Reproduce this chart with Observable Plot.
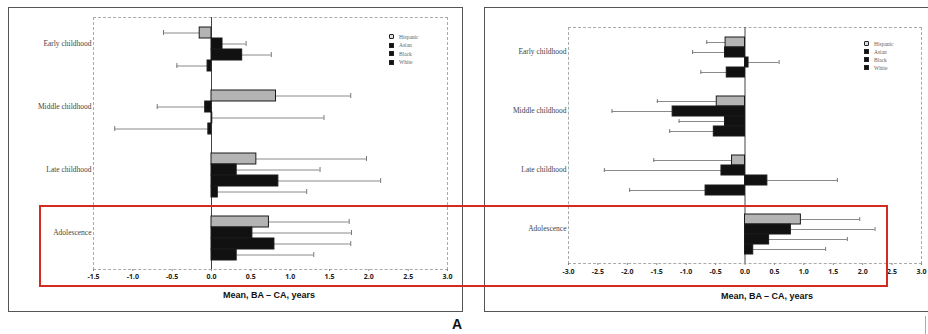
<!DOCTYPE html>
<html><head><meta charset="utf-8">
<script src="https://cdn.jsdelivr.net/npm/d3@7"></script>
<script src="https://cdn.jsdelivr.net/npm/@observablehq/plot@0.6"></script>
<style>
html,body{margin:0;padding:0;background:#fff;width:928px;height:334px;overflow:hidden;position:relative;font-family:"Liberation Sans",Arial,sans-serif}
.abs{position:absolute;box-sizing:border-box}
.lg{position:absolute;font-family:"Liberation Serif",serif;font-size:5.5px;color:#666;line-height:6px;white-space:nowrap}
.sw{position:absolute;width:5px;height:5px;box-sizing:border-box}
.ttl{position:absolute;font-weight:bold;font-size:9px;color:#111;white-space:nowrap;transform:translateX(-50%)}
</style></head><body>
<script>
const stages = ["Early childhood", "Middle childhood", "Late childhood", "Adolescence"];
const groups = ["Hispanic", "Asian", "Black", "White"];
// values ordered stage by stage, Hispanic / Asian / Black / White within each stage
const panelAMean = [-0.15, 0.14, 0.39, -0.05,  0.82, -0.08, 0.01, -0.04,  0.57, 0.32, 0.85, 0.08,  0.73, 0.52, 0.80, 0.32];
const panelAEnd  = [-0.61, 0.44, 0.76, -0.44,  1.77, -0.69, 1.43, -1.23,  1.97, 1.38, 2.15, 1.21,  1.75, 1.78, 1.77, 1.30];
const panelBMean = [-0.33, -0.34, 0.06, -0.31,  -0.48, -1.23, -0.34, -0.53,  -0.22, -0.40, 0.38, -0.67,  0.95, 0.78, 0.41, 0.14];
const panelBEnd  = [-0.65, -0.89, 0.58, -0.75,  -1.49, -2.26, -1.12, -1.28,  -1.55, -2.39, 1.57, -1.96,  1.95, 2.21, 1.74, 1.37];
const xTicksA = [-1.5, -1.0, -0.5, 0.0, 0.5, 1.0, 1.5, 2.0, 2.5, 3.0];
const xTicksB = [-3.0, -2.5, -2.0, -1.5, -1.0, -0.5, 0.0, 0.5, 1.0, 1.5, 2.0, 2.5, 3.0];
const axisTitle = "Mean, BA \u2013 CA, years";
const panelLetter = "A";
const barColors = ["#b4b4b4", "#111", "#111", "#111"];

function rowsOf(mean, end) {
  const rows = [];
  stages.forEach((s, i) => groups.forEach((g, j) => rows.push({stage: s, group: g, mean: mean[i * 4 + j], end: end[i * 4 + j]})));
  return rows;
}

function makePlot(mean, end, cfg) {
  const rows = rowsOf(mean, end);
  return Plot.plot({
    width: cfg.width, height: cfg.height,
    marginLeft: cfg.ml, marginRight: cfg.mr, marginTop: cfg.mt, marginBottom: cfg.mb,
    style: {background: "transparent", overflow: "visible"},
    x: {domain: [cfg.ticks[0], cfg.ticks[cfg.ticks.length - 1]]},
    y: {domain: groups, padding: 0, insetTop: cfg.inset, insetBottom: cfg.inset, axis: null},
    fy: {domain: stages, padding: 0},
    color: {domain: groups, range: barColors},
    marks: [
      Plot.ruleX([0], {stroke: "#444", strokeWidth: 1}),
      Plot.ruleY(rows, {fy: "stage", y: "group", x1: "mean", x2: "end", stroke: "#8a8a8a", strokeWidth: 1}),
      Plot.tickX(rows, {fy: "stage", y: "group", x: "end", stroke: "#777", insetTop: 3, insetBottom: 3}),
      Plot.barX(rows, {fy: "stage", y: "group", x1: 0, x2: "mean", fill: "group", stroke: "#1a1a1a", strokeWidth: 1}),
      Plot.axisX({ticks: cfg.ticks, tickFormat: d => d.toFixed(1), tickSize: 2, tickPadding: cfg.tickPad,
        fontSize: 7, fontWeight: "bold", fill: "#222", stroke: "#888", label: null}),
      Plot.axisFy({anchor: "left", tickSize: 0, tickPadding: 2, label: null, fontFamily: "Liberation Serif",
        fontSize: 7.5, fill: "#444", dy: -5})
    ]
  });
}

function place(el, left, top) {
  el.style.position = "absolute"; el.style.left = left + "px"; el.style.top = top + "px";
  document.body.appendChild(el); return el;
}
function box(left, top, w, h, css) {
  const d = document.createElement("div"); d.className = "abs";
  d.style.cssText += `left:${left}px;top:${top}px;width:${w}px;height:${h}px;` + css;
  document.body.appendChild(d); return d;
}
function legend(x, y, step) {
  groups.forEach((g, i) => {
    const s = document.createElement("div"); s.className = "sw";
    s.style.left = x + "px"; s.style.top = (y + i * step) + "px";
    s.style.background = i === 0 ? "#ddd" : "#111";
    s.style.border = "1px solid #222";
    if (i === 0) s.style.borderRadius = "1px";
    document.body.appendChild(s);
    const t = document.createElement("div"); t.className = "lg"; t.textContent = g;
    t.style.left = (x + 10) + "px"; t.style.top = (y + i * step - 0.5) + "px";
    document.body.appendChild(t);
  });
}
function title(cx, top, txt, size) {
  const t = document.createElement("div"); t.className = "ttl"; t.textContent = txt;
  t.style.left = cx + "px"; t.style.top = top + "px"; if (size) t.style.fontSize = size + "px";
  document.body.appendChild(t); return t;
}

// outer panel frames
box(8, 7, 455, 305, "border:1.5px solid #555;");
box(484, 7, 450, 305, "border:1.5px solid #555;");
// inner plot frames
box(93, 17, 355, 253, "border:1px dashed #aaa;");
box(568, 27, 354, 237, "border:1px dashed #aaa;");

place(makePlot(panelAMean, panelAEnd, {width: 470, height: 300, ml: 93, mr: 23, mt: 17, mb: 31, inset: 9, ticks: xTicksA, tickPad: 3}), 0, 0);
place(makePlot(panelBMean, panelBEnd, {width: 458, height: 300, ml: 98, mr: 7, mt: 27, mb: 37, inset: 9, ticks: xTicksB, tickPad: 4}), 470, 0);

legend(389, 34, 8.5);
legend(864, 41, 8);

title(269, 290, axisTitle);
title(767, 291, axisTitle);
const L = title(457, 316, panelLetter, 14);
box(925, 316, 1, 18, "background:#aaa;");

// red highlight box
box(39, 205, 849, 82, "border:2px solid #d42a22;");
</script>
</body></html>
